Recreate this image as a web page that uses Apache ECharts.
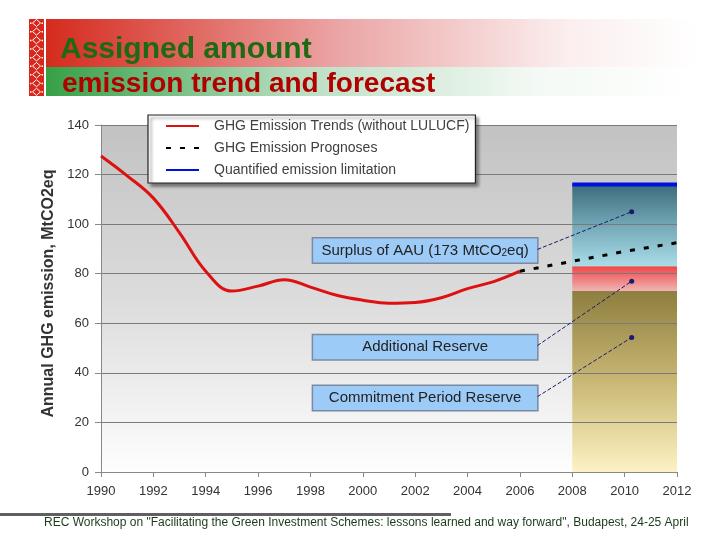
<!DOCTYPE html>
<html><head><meta charset="utf-8">
<script src="https://cdn.jsdelivr.net/npm/echarts@6/dist/echarts.min.js"></script>
<style>html,body{margin:0;padding:0;background:#fff}#c{width:720px;height:540px}</style>
</head><body><div id="c"></div>
<script>
// ---- data ----
const trendYears = [1990,1991,1992,1993,1994,1995,1996,1997,1998,1999,2000,2001,2002,2003,2004,2005,2006];
const trendValues = [127.5,119.5,110.5,96.5,81,73,75,77.6,74.6,71.3,69.3,68.1,68.4,70.3,74,76.8,81];
const prognosisYears = [2006,2008,2010,2012];
const prognosisValues = [81,85,89,92.5];
const limitYears = [2008,2012];
const limitValues = [116,116];
const bandStartYear = 2008, bandEndYear = 2012;
const bandLow = [0,73,83];
const bandHigh = [73,83,116];
const boxLabels = ['Surplus of AAU (173 MtCO{s|2}eq)','Additional Reserve','Commitment Period Reserve'];
const boxYear = 2002.38;
const boxValues = [89.4,50.3,29.85];
const connectorStartYear = 2006.67;
const connectorStartValues = [89.8,51,30.4];
const connectorEndYear = 2010.27;
const connectorEndValues = [105,77,54.3];
const xMin = 1990, xMax = 2012, xStep = 2;
const yMin = 0, yMax = 140, yStep = 20;
const seriesNames = ['GHG Emission Trends (without LULUCF)','GHG Emission Prognoses','Quantified emission limitation'];

const FONT = "'Liberation Sans', Arial, sans-serif";
const lg = (stops) => ({type:'linear',x:0,y:0,x2:0,y2:1,colorStops:stops.map((c,i)=>({offset:i/(stops.length-1),color:c}))});
const bandFills = [
  lg(['#8e7e3f','#c9b874','#fdf2c4']),
  lg(['#f04646','#efb5b5']),
  lg(['#3b6c7c','#74a8b6','#a9dde8'])
];

const chart = echarts.init(document.getElementById('c'), null, {renderer:'canvas'});

const connectorSeries = boxLabels.map((lab,i)=>({
  type:'line', z:6, silent:true, symbol:'none', showSymbol:true,
  lineStyle:{color:'#1b1b6b',width:1,type:[4,2]},
  itemStyle:{color:'#1b1b6b'},
  data:[[connectorStartYear,connectorStartValues[i]],{value:[connectorEndYear,connectorEndValues[i]],symbol:'circle',symbolSize:5}],
  markPoint:{
    symbol:'rect', symbolSize:0, silent:true,
    data:[{coord:[boxYear,boxValues[i]]}],
    label:{show:true, position:'inside', formatter:lab, fontFamily:FONT, fontSize:15, color:'#222',
      lineHeight:16, backgroundColor:'#9dcbf8', borderColor:'#7b8aa0', borderWidth:1.5,
      padding:[4,10], width:204, align:'center',
      rich:{s:{fontSize:10, fontFamily:FONT, color:'#222', verticalAlign:'bottom', lineHeight:12, padding:[6,0,0,0]}}}
  }
}));

const ornament = [];
ornament.push({type:'rect', shape:{x:29,y:19,width:15,height:77}, style:{fill:'#d8281c'}});
for (let k=0;k<9;k++){
  const cy = 23 + k*8.6;
  ornament.push({type:'polygon', shape:{points:[[36.5,cy-3.5],[40.5,cy],[36.5,cy+3.5],[32.5,cy]]}, style:{fill:'none',stroke:'#fff',lineWidth:1}});
  ornament.push({type:'rect', shape:{x:30,y:cy-0.5,width:1.5,height:1.5}, style:{fill:'#fff'}});
  ornament.push({type:'rect', shape:{x:41.5,y:cy-0.5,width:1.5,height:1.5}, style:{fill:'#fff'}});
}

chart.setOption({
  animation:false,
  textStyle:{fontFamily:FONT},
  grid:{left:101,right:43,top:125,bottom:68,show:true,borderWidth:0,
    backgroundColor:lg(['#c2c2c2','#dcdcdc','#fefefe'])},
  legend:{
    data:seriesNames, orient:'vertical', left:148, top:115,
    itemWidth:33, itemHeight:14, itemGap:8,
    padding:[4,6,6,17],
    backgroundColor:'#fff', borderColor:'#222', borderWidth:1.2,
    shadowColor:'rgba(0,0,0,0.45)', shadowBlur:3, shadowOffsetX:3, shadowOffsetY:3,
    itemStyle:{opacity:0},
    textStyle:{fontFamily:FONT, fontSize:14, color:'#404040', padding:[0,0,0,10]},
    selectedMode:false
  },
  xAxis:{type:'value', min:xMin, max:xMax, interval:xStep, z:3,
    axisLine:{lineStyle:{color:'#888',width:1}},
    axisTick:{show:true,length:5,lineStyle:{color:'#888'}},
    axisLabel:{fontSize:13,color:'#333',margin:13,fontFamily:FONT,formatter:v=>String(v)},
    splitLine:{show:false}},
  yAxis:{type:'value', min:yMin, max:yMax, interval:yStep, z:3,
    name:'Annual GHG emission, MtCO2eq', nameLocation:'middle', nameRotate:90, nameGap:44,
    nameTextStyle:{fontSize:16,fontWeight:'bold',color:'#333',fontFamily:FONT,padding:[0,0,0,10]},
    axisLine:{show:true,lineStyle:{color:'#888',width:1}},
    axisTick:{show:true,length:6,lineStyle:{color:'#888'}},
    axisLabel:{fontSize:13,color:'#333',margin:12,fontFamily:FONT},
    splitLine:{show:true,lineStyle:{color:'#7a7a7a',width:1}}},
  series:[
    {type:'custom', z:1, silent:true,
      data:bandLow.map((lo,i)=>[bandStartYear,bandEndYear,lo,bandHigh[i],i]),
      renderItem:(params,api)=>{
        const p1 = api.coord([api.value(0),api.value(3)]);
        const p2 = api.coord([api.value(1),api.value(2)]);
        return {type:'rect', shape:{x:p1[0],y:p1[1],width:p2[0]-p1[0],height:p2[1]-p1[1]},
          style:{fill:bandFills[api.value(4)]}};
      }},
    {name:seriesNames[0], type:'line', z:5, smooth:0.4, symbol:'none', silent:true,
      lineStyle:{color:'#dd1111',width:3}, itemStyle:{color:'#dd1111'},
      data:trendYears.map((y,i)=>[y,trendValues[i]])},
    {name:seriesNames[1], type:'line', z:5, symbol:'none', silent:true,
      lineStyle:{color:'#000',width:3,type:[5,9]}, itemStyle:{color:'#000'},
      data:prognosisYears.map((y,i)=>[y,prognosisValues[i]])},
    {name:seriesNames[2], type:'line', z:5, symbol:'none', silent:true,
      lineStyle:{color:'#0010dd',width:4}, itemStyle:{color:'#0010dd'},
      data:limitYears.map((y,i)=>[y,limitValues[i]])},
    ...connectorSeries
  ],
  graphic:[
    {type:'rect', z:-1, shape:{x:46,y:19,width:650,height:48},
      style:{fill:{type:'linear',x:0,y:0,x2:1,y2:0,colorStops:[{offset:0,color:'#d52b1e'},{offset:0.45,color:'#eba5a5'},{offset:0.8,color:'#fbeeee'},{offset:1,color:'#ffffff'}]}}},
    {type:'rect', z:-1, shape:{x:46,y:67,width:650,height:29},
      style:{fill:{type:'linear',x:0,y:0,x2:1,y2:0,colorStops:[{offset:0,color:'#36a046'},{offset:0.4,color:'#bcdfc4'},{offset:0.75,color:'#f3f9f4'},{offset:1,color:'#ffffff'}]}}},
    ...ornament,
    {type:'text', left:60, top:35, style:{text:'Assigned amount', font:"bold 30px "+FONT, fill:'#1e6a12'}},
    {type:'text', left:62, top:70, style:{text:'emission trend and forecast', font:"bold 28px "+FONT, fill:'#b00000'}},
    {type:'rect', shape:{x:0,y:513,width:451,height:3}, style:{fill:'#606060'}},
    {type:'text', left:44, top:517, style:{text:'REC Workshop on "Facilitating the Green Investment Schemes: lessons learned and way forward", Budapest, 24-25 April', font:"12px "+FONT, fill:'#1c3a1c'}}
  ]
});
</script></body></html>
